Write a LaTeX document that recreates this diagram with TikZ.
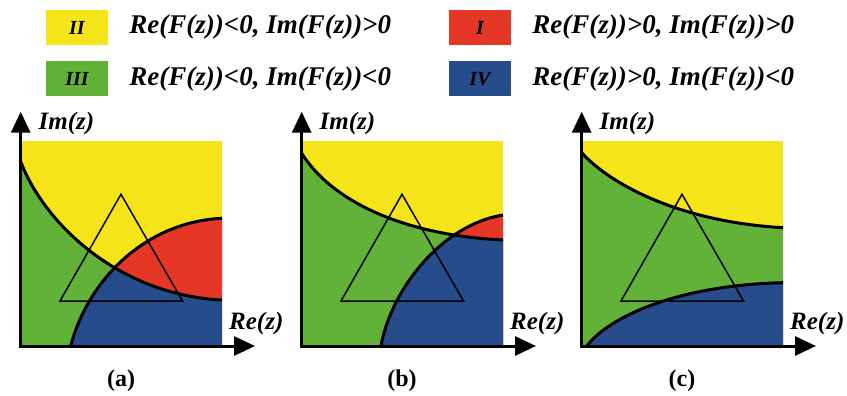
\documentclass[tikz,border=0pt]{standalone}
\usepackage{fontspec}
\setmainfont{Liberation Serif}
\usepackage{tikz}
\usetikzlibrary{arrows.meta,positioning}

\definecolor{yel}{RGB}{246,228,26}
\definecolor{rd}{RGB}{228,55,37}
\definecolor{grn}{RGB}{98,178,58}
\definecolor{blu}{RGB}{38,76,140}

\begin{document}
\begin{tikzpicture}[x=1pt,y=-1pt,
    swatch/.style={rectangle,minimum width=62pt,minimum height=35pt,inner sep=0pt,
        font=\fontsize{20}{20}\selectfont\bfseries\itshape},
    legtxt/.style={inner sep=0pt,font=\fontsize{27}{27}\selectfont\bfseries\itshape},
    axlab/.style={anchor=west,inner sep=0pt,font=\fontsize{25}{25}\selectfont\bfseries\itshape},
    caption/.style={inner sep=0pt,font=\fontsize{24}{24}\selectfont\bfseries},
    bnd/.style={line width=3pt},
    tri/.style={line width=1.5pt},
    axis/.style={line width=3pt,{Triangle[length=21pt,width=19pt]}-{Triangle[length=21pt,width=19pt]}}]
    \useasboundingbox (0,0) rectangle (847,396);

    % legend
    \foreach \x/\y/\col/\num/\txt in {77/27.5/yel/II/{Re(F(z))<0, Im(F(z))>0},
        480/27.5/rd/I/{Re(F(z))>0, Im(F(z))>0},
        77/79/grn/III/{Re(F(z))<0, Im(F(z))<0},
        480/79/blu/IV/{Re(F(z))>0, Im(F(z))<0}} {
        \node[swatch,fill=\col] (sw\num) at (\x,\y) {\num};
        \node[legtxt,right=21pt of sw\num] (txt\num) {\txt};
    }

    % panel (a)
    \begin{scope}
        \coordinate (oa) at (20.7,346);
        \coordinate (ya) at (20.7,111.7);
        \coordinate (xa) at (255,346);
        \fill[yel] (20.7,141) rectangle (222,346);
        \fill[grn] (20.7,161.7) .. controls (45,225) and (120,295) .. (222,300) -- (222,346) -- (oa) -- cycle;
        \fill[rd] (70.7,346) .. controls (88,280) and (145,222) .. (222,218.3) -- (222,346) -- cycle;
        \begin{scope}
            \clip (20.7,161.7) .. controls (45,225) and (120,295) .. (222,300) -- (222,346) -- (oa) -- cycle;
            \fill[blu] (70.7,346) .. controls (88,280) and (145,222) .. (222,218.3) -- (222,346) -- cycle;
        \end{scope}
        \draw[bnd] (20.7,161.7) .. controls (45,225) and (120,295) .. (222,300);
        \draw[bnd] (70.7,346) .. controls (88,280) and (145,222) .. (222,218.3);
        \draw[tri] (60,301) -- (121,194.3) -- (182.5,301) -- cycle;
        \draw[axis] (ya) |- (xa);
        \node[axlab] (ima) at (38.5,123) {Im(z)};
        \node[axlab] (rea) at (229,323) {Re(z)};
        \node[caption] (capa) at (121,380.5) {(a)};
    \end{scope}

    % panel (b)
    \begin{scope}[xshift=281pt]
        \coordinate (ob) at (20.7,346);
        \coordinate (yb) at (20.7,111.7);
        \coordinate (xb) at (255,346);
        \fill[yel] (20.7,141) rectangle (222,346);
        \fill[grn] (20.7,153.3) .. controls (50,200) and (120,235) .. (222,240) -- (222,346) -- (ob) -- cycle;
        \fill[rd] (100,346) .. controls (110,290) and (160,225) .. (222,215) -- (222,346) -- cycle;
        \begin{scope}
            \clip (20.7,153.3) .. controls (50,200) and (120,235) .. (222,240) -- (222,346) -- (ob) -- cycle;
            \fill[blu] (100,346) .. controls (110,290) and (160,225) .. (222,215) -- (222,346) -- cycle;
        \end{scope}
        \draw[bnd] (20.7,153.3) .. controls (50,200) and (120,235) .. (222,240);
        \draw[bnd] (100,346) .. controls (110,290) and (160,225) .. (222,215);
        \draw[tri] (60,301) -- (121,194.3) -- (182.5,301) -- cycle;
        \draw[axis] (yb) |- (xb);
        \node[axlab] (imb) at (38.5,123) {Im(z)};
        \node[axlab] (reb) at (229,323) {Re(z)};
        \node[caption] (capb) at (121,380.5) {(b)};
    \end{scope}

    % panel (c)
    \begin{scope}[xshift=561pt]
        \coordinate (oc) at (20.7,346);
        \coordinate (yc) at (20.7,111.7);
        \coordinate (xc) at (255,346);
        \fill[yel] (20.7,141) rectangle (222,346);
        \fill[grn] (20.7,152.7) .. controls (50,185) and (120,222) .. (222,227.7) -- (222,346) -- (oc) -- cycle;
        \fill[blu] (25.7,346) .. controls (50,315) and (120,285) .. (222,282.7) -- (222,346) -- cycle;
        \draw[bnd] (20.7,152.7) .. controls (50,185) and (120,222) .. (222,227.7);
        \draw[bnd] (25.7,346) .. controls (50,315) and (120,285) .. (222,282.7);
        \draw[tri] (60,301) -- (121,194.3) -- (182.5,301) -- cycle;
        \draw[axis] (yc) |- (xc);
        \node[axlab] (imc) at (38.5,123) {Im(z)};
        \node[axlab] (rec) at (229,323) {Re(z)};
        \node[caption] (capc) at (121,380.5) {(c)};
    \end{scope}
\end{tikzpicture}
\end{document}
